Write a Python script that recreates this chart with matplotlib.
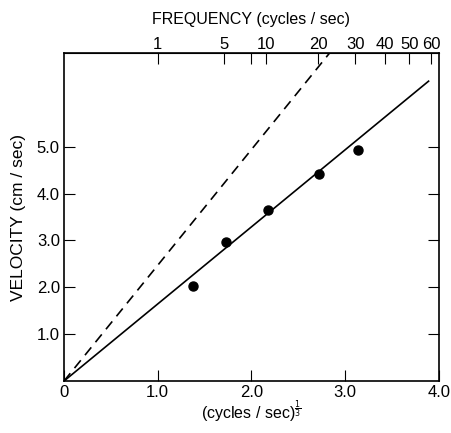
import matplotlib
matplotlib.use("Agg")
import matplotlib.pyplot as plt
import numpy as np

plt.rcParams['font.family'] = ['Liberation Sans', 'DejaVu Sans']

# measured points: x = (cycles/sec)^(1/3), y = velocity (cm/sec)
x_pts = [1.375, 1.728, 2.173, 2.72, 3.133]
v_pts = [2.02, 2.97, 3.66, 4.42, 4.93]

# fitted line (solid) and dashed reference line, as slopes through origin
slope_solid = 1.645
x_solid_end = 3.89
slope_dash = 2.47

# top axis frequency ticks
freq_ticks = [1, 5, 8, 10, 20, 30, 40, 50, 60]
freq_labels = ['1', '5', '', '10', '20', '30', '40', '50', '60']

fig = plt.figure(figsize=(4.52, 4.33), dpi=100)
ax = fig.add_axes([0.1416, 0.120, 0.8294, 0.7576])

xs = np.array([0, x_solid_end])
ax.plot(xs, slope_solid * xs, color='black', lw=1.2)
xd = np.array([0, 7.0 / slope_dash])
ax.plot(xd, slope_dash * xd, color='black', lw=1.2, dashes=(6, 4))
ax.plot(x_pts, v_pts, 'o', color='black', ms=6.5)

ax.set_xlim(0, 4.0)
ax.set_ylim(0, 7.0)
ax.set_xticks([0, 1, 2, 3, 4])
ax.set_xticklabels(['0', '1.0', '2.0', '3.0', '4.0'])
ax.set_yticks([1, 2, 3, 4, 5])
ax.set_yticklabels(['1.0', '2.0', '3.0', '4.0', '5.0'])
ax.tick_params(direction='in', length=8, width=0.8, labelsize=12,
               right=True, pad=3)
for s in ax.spines.values():
    s.set_linewidth(1.2)

ax.set_xlabel(r'(cycles / sec)$^{\frac{1}{3}}$', fontsize=11.5, labelpad=-1)
ax.set_ylabel('VELOCITY (cm / sec)', fontsize=12.5, labelpad=8)

top = ax.secondary_xaxis('top')
top.set_xticks([f ** (1 / 3) for f in freq_ticks])
top.set_xticklabels(freq_labels)
top.tick_params(direction='in', length=8, width=0.8, labelsize=12, pad=1)
top.set_xlabel('FREQUENCY (cycles / sec)', fontsize=11.5, labelpad=9)

fig.savefig('out.png', dpi=100)
